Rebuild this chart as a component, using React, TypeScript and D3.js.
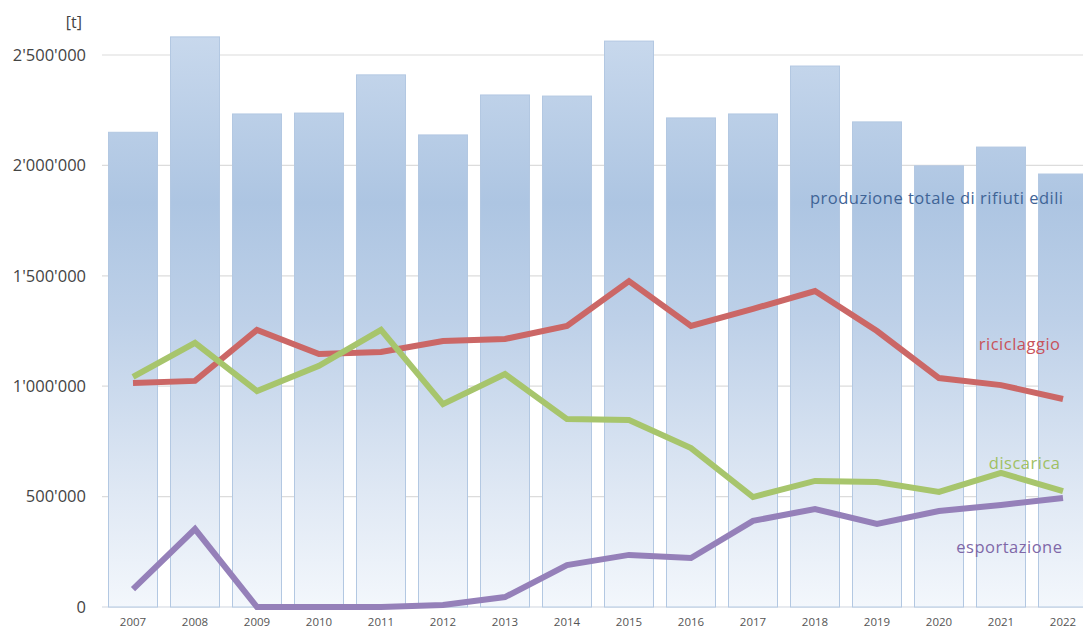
import React from "react";
import * as d3 from "d3";

const years = ["2007","2008","2009","2010","2011","2012","2013","2014","2015","2016","2017","2018","2019","2020","2021","2022"];
const totale = [2150000,2582000,2233000,2237000,2410000,2138000,2319000,2314000,2563000,2215000,2233000,2450000,2197000,1998000,2083000,1961000];
const riciclaggio = [1015000,1024000,1255000,1146000,1155000,1205000,1214000,1273000,1476000,1273000,1350000,1431000,1250000,1037000,1005000,942000];
const discarica = [1042000,1196000,978000,1092000,1255000,919000,1055000,851000,847000,720000,498000,571000,566000,521000,607000,525000];
const esportazione = [81000,353000,0,0,0,9000,45000,190000,236000,222000,390000,444000,376000,435000,462000,494000];
const yTicks = [0,500000,1000000,1500000,2000000,2500000];

const W = 1083, H = 630;

const fmt = (v: number) => v === 0 ? "0" : d3.format(",")(v).replace(/,/g, "'");

export default function App() {
  const x = d3.scaleBand<string>().domain(years).range([102, 1094]).paddingInner(12/62).paddingOuter(6/62);
  const y = d3.scaleLinear().domain([0, 2500000]).range([607, 55]);
  const cx = (i: number) => (x(years[i]) as number) + x.bandwidth() / 2;
  const line = d3.line<number>().x((_, i) => cx(i)).y(d => y(d));
  const series = [
    { data: riciclaggio, color: "#cb6766" },
    { data: discarica, color: "#a7c56c" },
    { data: esportazione, color: "#9580b9" },
  ];
  const lblFont = "'Open Sans', sans-serif";
  const ls = 0.5;
  return (
    <svg width={W} height={H} style={{ position: "absolute", left: 0, top: 0, background: "#fff" }}>
      <defs>
        <linearGradient id="barg" gradientUnits="userSpaceOnUse" x1="0" y1="30" x2="0" y2="607">
          <stop offset="0" stopColor="#c9d9ed" />
          <stop offset="0.3" stopColor="#adc5e2" />
          <stop offset="0.5" stopColor="#bdd0e8" />
          <stop offset="0.8" stopColor="#dfe8f4" />
          <stop offset="1" stopColor="#f3f7fc" />
        </linearGradient>
        <clipPath id="clip"><rect x={0} y={0} width={W} height={H} /></clipPath>
      </defs>
      <g clipPath="url(#clip)">
        {yTicks.map(t => (
          <g key={t}>
            <line x1={102} x2={W} y1={y(t)} y2={y(t)} stroke={t === 0 ? "#cfd6df" : "#dcdcdc"} strokeWidth={1.2} />
            <text x={86} y={y(t)} dy="0.35em" textAnchor="end" fontFamily="'Open Sans', sans-serif" fontSize={16.5} fill="#444">{fmt(t)}</text>
          </g>
        ))}
        <text x={82} y={28} textAnchor="end" fontFamily="'Open Sans', sans-serif" fontSize={16} fill="#444">[t]</text>
        {years.map((yr, i) => (
          <rect key={yr} x={(x(yr) as number) + 0.5} y={y(totale[i])} width={x.bandwidth() - 1} height={y(0) - y(totale[i])}
            fill="url(#barg)" stroke="#b3c8e2" strokeWidth={1} />
        ))}
        {years.map((yr, i) => (
          <text key={yr} x={cx(i)} y={626} textAnchor="middle" fontFamily="'Open Sans', sans-serif" fontSize={11.5} fill="#555">{yr}</text>
        ))}
        {series.map((s, k) => (
          <path key={k} d={line(s.data) || ""} fill="none" stroke={s.color} strokeWidth={6} strokeLinejoin="miter" strokeLinecap="butt" />
        ))}
        <text x={1063.5} y={204} textAnchor="end" fontFamily={lblFont} fontSize={16.5} letterSpacing={ls} fill="#3f6496">produzione totale di rifiuti edili</text>
        <text x={1060.5} y={350} textAnchor="end" fontFamily={lblFont} fontSize={16.5} letterSpacing={ls} fill="#c8525a">riciclaggio</text>
        <text x={1060.5} y={469} textAnchor="end" fontFamily={lblFont} fontSize={16.5} letterSpacing={ls} fill="#9fc062">discarica</text>
        <text x={1062.5} y={553} textAnchor="end" fontFamily={lblFont} fontSize={16.5} letterSpacing={ls} fill="#8068a8">esportazione</text>
      </g>
    </svg>
  );
}
